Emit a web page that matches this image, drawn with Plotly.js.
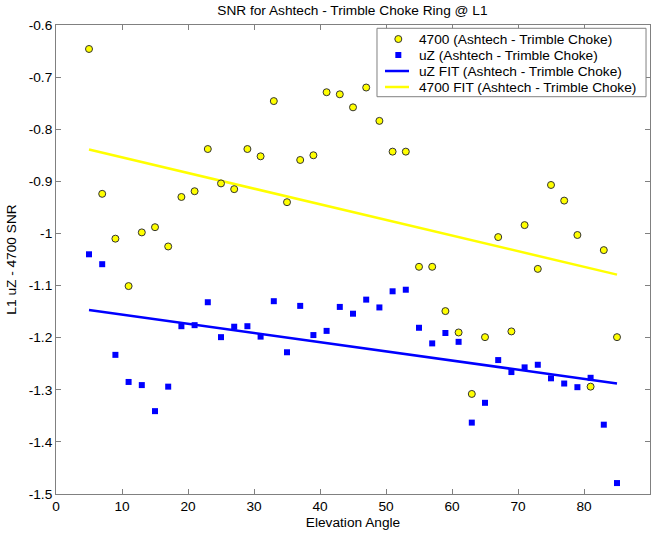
<!DOCTYPE html>
<html>
<head>
<meta charset="utf-8">
<script src="https://cdn.plot.ly/plotly-3.0.1.min.js"></script>
<style>html,body{margin:0;padding:0;background:#fff;}#chart{width:655px;height:533px;}</style>
</head>
<body>
<div id="chart"></div>
<script>
// Elevation angles (degrees)
const elevation = [5,7,9,11,13,15,17,19,21,23,25,27,29,31,33,35,37,39,41,43,45,47,49,51,53,55,57,59,61,63,65,67,69,71,73,75,77,79,81,83,85];
// 4700 (Ashtech - Trimble Choke)
const snr4700 = [-0.646,-0.924,-1.010,-1.101,-0.998,-0.988,-1.025,-0.930,-0.919,-0.838,-0.904,-0.915,-0.838,-0.852,-0.746,-0.940,-0.859,-0.850,-0.729,-0.733,-0.758,-0.720,-0.784,-0.843,-0.843,-1.064,-1.064,-1.149,-1.190,-1.308,-1.199,-1.007,-1.188,-0.984,-1.068,-0.907,-0.937,-1.003,-1.294,-1.032,-1.199];
// uZ (Ashtech - Trimble Choke)
const snrUZ = [-1.040,-1.059,-1.233,-1.285,-1.291,-1.341,-1.294,-1.178,-1.176,-1.132,-1.199,-1.179,-1.178,-1.198,-1.130,-1.228,-1.139,-1.195,-1.187,-1.141,-1.154,-1.127,-1.142,-1.111,-1.108,-1.181,-1.211,-1.191,-1.208,-1.363,-1.325,-1.243,-1.266,-1.257,-1.252,-1.278,-1.288,-1.295,-1.277,-1.367,-1.479];
// Fit lines (end points)
const fitX = [5, 85];
const fitUZ = [-1.147, -1.288];
const fit4700 = [-0.839, -1.079];
// Tick labels
const xTicks = [0,10,20,30,40,50,60,70,80,90];
const yTicks = [-1.5,-1.4,-1.3,-1.2,-1.1,-1,-0.9,-0.8,-0.7,-0.6];
const yTickText = ['-1.5','-1.4','-1.3','-1.2','-1.1','-1','-0.9','-0.8','-0.7','-0.6'];
// Legend entries (in display order)
const legendNames = ['4700 (Ashtech - Trimble Choke)', 'uZ (Ashtech - Trimble Choke)',
                     'uZ FIT (Ashtech - Trimble Choke)', '4700 FIT (Ashtech - Trimble Choke)'];

const font = {family: 'Arial, "Liberation Sans", sans-serif', size: 13.7, color: '#000'};
const axisColor = '#808080';
const YELLOW = '#ffff00', BLUE = '#0000ff';

const traces = [
  {x: fitX, y: fitUZ, mode: 'lines', name: legendNames[2], line: {color: BLUE, width: 2.5}},
  {x: fitX, y: fit4700, mode: 'lines', name: legendNames[3], line: {color: YELLOW, width: 2.5}},
  {x: elevation, y: snrUZ, mode: 'markers', name: legendNames[1],
   marker: {symbol: 'square', size: 6, color: BLUE}},
  {x: elevation, y: snr4700, mode: 'markers', name: legendNames[0],
   marker: {symbol: 'circle', size: 7, color: YELLOW, line: {color: '#333333', width: 1}}}
];

// Hand-built MATLAB-style legend box (compact row spacing)
const box = {x0: 0.5404, x1: 0.9933, y0: 0.8471, y1: 0.993};
const rowY = [0.9701, 0.9360, 0.9019, 0.8678];
const symX = 0.5763, lineX0 = 0.5539, lineX1 = 0.5943, textX = 0.6072;

const shapes = [
  {type: 'rect', xref: 'paper', yref: 'paper', x0: box.x0, x1: box.x1, y0: box.y0, y1: box.y1,
   fillcolor: '#fff', line: {color: axisColor, width: 1}},
  {type: 'circle', xref: 'paper', yref: 'paper', xsizemode: 'pixel', ysizemode: 'pixel',
   xanchor: symX, yanchor: rowY[0], x0: -3.5, x1: 3.5, y0: -3.5, y1: 3.5,
   fillcolor: YELLOW, line: {color: '#333333', width: 1}},
  {type: 'rect', xref: 'paper', yref: 'paper', xsizemode: 'pixel', ysizemode: 'pixel',
   xanchor: symX, yanchor: rowY[1], x0: -3, x1: 3, y0: -3, y1: 3,
   fillcolor: BLUE, line: {width: 0}},
  {type: 'line', xref: 'paper', yref: 'paper', x0: lineX0, x1: lineX1, y0: rowY[2], y1: rowY[2],
   line: {color: BLUE, width: 2.5}},
  {type: 'line', xref: 'paper', yref: 'paper', x0: lineX0, x1: lineX1, y0: rowY[3], y1: rowY[3],
   line: {color: YELLOW, width: 2.5}}
];
const annotations = legendNames.map((t, i) => ({
  text: t, xref: 'paper', yref: 'paper', x: textX, y: rowY[i],
  xanchor: 'left', yanchor: 'middle', showarrow: false, font: font
}));

const layout = {
  width: 655, height: 533,
  margin: {l: 56, r: 5, t: 25, b: 39, pad: 0},
  paper_bgcolor: '#fff', plot_bgcolor: '#fff',
  font: font,
  showlegend: false,
  title: {text: 'SNR for Ashtech - Trimble Choke Ring @ L1', font: font, x: 0.538, xanchor: 'center', y: 0.981, yanchor: 'middle'},
  xaxis: {
    range: [0, 90], tickvals: xTicks, ticktext: xTicks.map(String),
    showline: true, mirror: 'ticks', linecolor: axisColor, linewidth: 1,
    ticks: 'inside', ticklen: 5, tickcolor: axisColor,
    showgrid: false, zeroline: false, tickfont: font,
    title: {text: 'Elevation Angle', font: font, standoff: 3}
  },
  yaxis: {
    range: [-1.5, -0.6], tickvals: yTicks, ticktext: yTickText,
    showline: true, mirror: 'ticks', linecolor: axisColor, linewidth: 1,
    ticks: 'inside', ticklen: 5, tickcolor: axisColor,
    showgrid: false, zeroline: false, tickfont: font,
    title: {text: 'L1 uZ - 4700 SNR', font: font, standoff: 8}
  },
  shapes: shapes,
  annotations: annotations
};

Plotly.newPlot('chart', traces, layout, {displayModeBar: false, staticPlot: true});
</script>
</body>
</html>
